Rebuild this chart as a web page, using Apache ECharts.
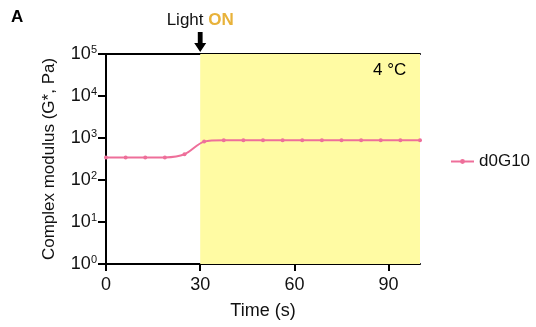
<!DOCTYPE html>
<html>
<head>
<meta charset="utf-8">
<script src="https://cdn.jsdelivr.net/npm/echarts@6/dist/echarts.min.js"></script>
<style>
  html, body { margin: 0; padding: 0; background: #fff; }
  #chart { width: 536px; height: 327px; }
</style>
</head>
<body>
<div id="chart"></div>
<script>
// time points (s) and complex modulus G* (Pa)
const times = [0, 6.25, 12.5, 18.75, 25, 31.25, 37.5, 43.75, 50, 56.25, 62.5, 68.75, 75, 81.25, 87.5, 93.75, 100]
const modulus = [342, 342, 342, 345, 410, 820, 880, 880, 880, 880, 880, 880, 880, 880, 880, 880, 880]
const seriesName = 'd0G10'
const lightOn = [30, 100]
const xTicks = [0, 30, 60, 90]

const FONT = 'Liberation Sans, Arial, sans-serif'
const pink = '#EE6F9A'

const chart = echarts.init(document.getElementById('chart'), null, { renderer: 'canvas' })

chart.setOption({
  animation: false,
  textStyle: { fontFamily: FONT },
  grid: { left: 106, right: 116, top: 54, bottom: 63 },
  legend: {
    data: [seriesName],
    left: 445,
    top: 148,
    itemWidth: 23,
    itemHeight: 6,
    itemGap: 8,
    textStyle: { fontSize: 17, color: '#111', fontFamily: FONT }
  },
  graphic: [
    { type: 'text', left: 11, top: 9, z: 100, style: { text: 'A', fontSize: 17, fontWeight: 'bold', fill: '#000', fontFamily: FONT } },
    { type: 'text', left: 373, top: 62, z: 100, style: { text: '4 °C', fontSize: 17, fill: '#000', fontFamily: FONT } }
  ],
  xAxis: [
    {
      type: 'value',
      min: 0,
      max: 100,
      interval: 30,
      name: 'Time (s)',
      nameLocation: 'middle',
      nameGap: 38,
      nameTextStyle: { fontSize: 18, color: '#111' },
      axisLine: { lineStyle: { color: '#000', width: 2 } },
      axisTick: { show: true, length: 7, lineStyle: { color: '#000', width: 2 }, customValues: xTicks },
      axisLabel: { fontSize: 18, color: '#111', margin: 12, customValues: xTicks },
      splitLine: { show: false }
    },
    {
      type: 'value',
      position: 'top',
      min: 0,
      max: 100,
      axisLine: { show: true, lineStyle: { color: '#000', width: 2 } },
      axisTick: { show: false },
      axisLabel: { show: false },
      splitLine: { show: false }
    }
  ],
  yAxis: [
    {
      type: 'log',
      logBase: 10,
      min: 1,
      max: 100000,
      name: 'Complex modulus (G*, Pa)',
      nameLocation: 'middle',
      nameGap: 48,
      nameTextStyle: { fontSize: 17, color: '#111' },
      axisLine: { show: true, lineStyle: { color: '#000', width: 2 } },
      axisTick: { show: true, length: 8, lineStyle: { color: '#000', width: 2 } },
      axisLabel: {
        margin: 9,
        formatter: v => '{b|10}{s|' + Math.round(Math.log10(v)) + '}',
        rich: {
          b: { fontSize: 18, color: '#111', fontFamily: FONT },
          s: { fontSize: 11, color: '#111', fontFamily: FONT, verticalAlign: 'top', padding: [0, 0, 9, 0] }
        }
      },
      splitLine: { show: false }
    },
    {
      type: 'log',
      logBase: 10,
      position: 'right',
      min: 1,
      max: 100000,
      axisLine: { show: true, lineStyle: { color: '#000', width: 2 } },
      axisTick: { show: false },
      axisLabel: { show: false },
      splitLine: { show: false }
    }
  ],
  series: [
    {
      name: seriesName,
      type: 'line',
      data: times.map((t, i) => [t, modulus[i]]),
      smooth: 0.3,
      symbol: 'circle',
      symbolSize: 4,
      showAllSymbol: true,
      lineStyle: { color: pink, width: 2 },
      itemStyle: { color: pink },
      z: 5,
      markArea: {
        silent: true,
        itemStyle: { color: '#FFFBA3' },
        data: [[{ xAxis: lightOn[0] }, { xAxis: lightOn[1] }]]
      },
      markPoint: {
        silent: true,
        symbol: 'path://M3,0 L7,0 L7,11 L10,11 L5,20 L0,11 L3,11 Z',
        symbolSize: [12, 20],
        symbolOffset: [0, -12],
        itemStyle: { color: '#000' },
        label: {
          show: true,
          position: 'top',
          distance: 3,
          formatter: '{l|Light }{o|ON}',
          rich: {
            l: { fontSize: 17, color: '#111', fontFamily: FONT },
            o: { fontSize: 17, color: '#E8B23A', fontWeight: 'bold', fontFamily: FONT }
          }
        },
        data: [{ coord: [lightOn[0], 100000] }]
      }
    }
  ]
})
</script>
</body>
</html>
